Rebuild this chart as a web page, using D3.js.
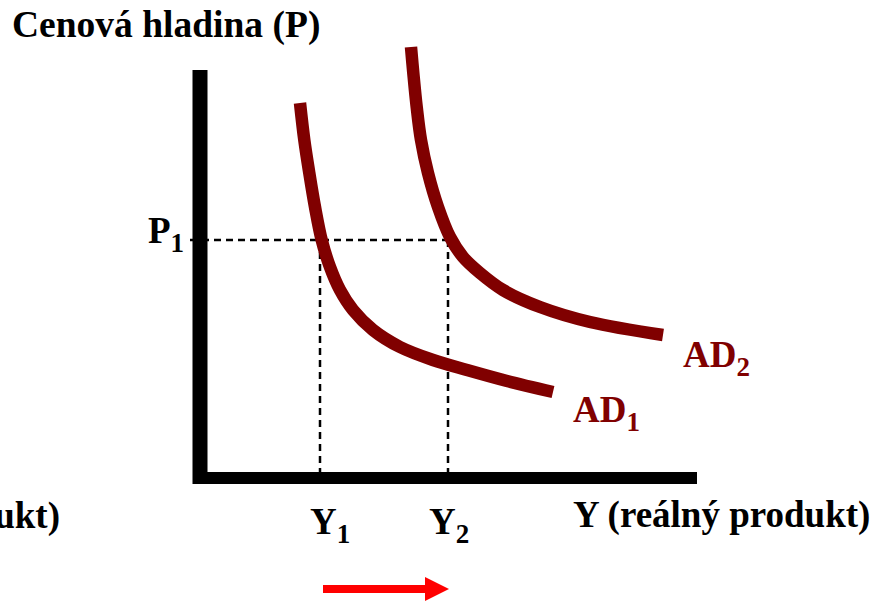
<!DOCTYPE html>
<html>
<head>
<meta charset="utf-8">
<script src="https://cdn.jsdelivr.net/npm/d3@7"></script>
<style>
  html, body { margin: 0; padding: 0; background: #fff; }
  svg { display: block; }
  text { font-family: "Liberation Serif", "Times New Roman", serif; font-weight: bold; }
</style>
</head>
<body>
<svg id="chart" width="874" height="601"></svg>
<script>
// ---- data ----
const ad1X = [100, 104.3, 109.3, 115, 121.7, 130, 140, 153, 173, 200, 233, 267, 307, 353];
const ad1Y = [375, 338, 305, 271, 238, 211, 188, 168, 148, 131, 118, 108, 97, 86];
const ad2X = [211, 213.3, 216.7, 221, 228, 238, 250, 263, 280, 303, 340, 390, 463];
const ad2Y = [431, 405, 371, 338, 305, 271, 241, 221, 205, 188, 171, 156, 143];
const priceLevel = 238;          // P1
const outputLevels = [120, 248]; // Y1, Y2
const outputLabels = ["1", "2"];
const curveLabels = ["1", "2"];

// ---- scales ----
const x = d3.scaleLinear().domain([0, 500]).range([200, 700]);
const y = d3.scaleLinear().domain([0, 410]).range([478, 68]);

const svg = d3.select("#chart");

// dashed guide lines
const dash = svg.append("g")
  .attr("stroke", "#000").attr("stroke-width", 2.5)
  .attr("stroke-dasharray", "7,5").attr("fill", "none");
dash.append("line")
  .attr("x1", x(-10)).attr("x2", x(d3.max(outputLevels)))
  .attr("y1", y(priceLevel)).attr("y2", y(priceLevel));
outputLevels.forEach(v => {
  dash.append("line")
    .attr("x1", x(v)).attr("x2", x(v))
    .attr("y1", y(priceLevel)).attr("y2", y(2));
});

// axes
svg.append("line")
  .attr("x1", x(0)).attr("x2", x(0))
  .attr("y1", y(408)).attr("y2", y(-6))
  .attr("stroke", "#000").attr("stroke-width", 15);
svg.append("line")
  .attr("x1", x(-7)).attr("x2", x(497))
  .attr("y1", y(0)).attr("y2", y(0))
  .attr("stroke", "#000").attr("stroke-width", 12);

// AD curves
const line = d3.line().x(d => x(d[0])).y(d => y(d[1])).curve(d3.curveCatmullRom.alpha(0.5));
const curves = [d3.zip(ad1X, ad1Y), d3.zip(ad2X, ad2Y)];
svg.append("g").selectAll("path").data(curves).join("path")
  .attr("d", line)
  .attr("fill", "none")
  .attr("stroke", "#800000")
  .attr("stroke-width", 12.5)
  .attr("stroke-linecap", "butt");

// text helpers
function sub(xp, yp, main, s, color) {
  const t = svg.append("text").attr("x", xp).attr("y", yp)
    .attr("font-size", 37).attr("fill", color);
  t.append("tspan").text(main);
  t.append("tspan").attr("font-size", 27).attr("dy", 9).text(s);
  return t;
}

// titles
svg.append("text").attr("x", 12).attr("y", 37).attr("font-size", 37.5).text("Cenová hladina (P)");
svg.append("text").attr("x", 573).attr("y", 527).attr("font-size", 37).text("Y (reálný produkt)");
svg.append("text").attr("x", 60).attr("y", 528).attr("font-size", 37)
  .attr("text-anchor", "end").text("Y (reálný produkt)");

// P1 label
sub(148, y(priceLevel) + 3, "P", "1", "#000");

// Y1, Y2 labels
const labelShift = [-10, -19];
outputLevels.forEach((v, i) => sub(x(v) + labelShift[i], 534, "Y", outputLabels[i], "#000"));

// AD labels
sub(573, 422, "AD", curveLabels[0], "#800000");
sub(683, 367, "AD", curveLabels[1], "#800000");

// red arrow
svg.append("defs").append("marker")
  .attr("id", "ah").attr("viewBox", "0 0 10 10")
  .attr("refX", 0).attr("refY", 5)
  .attr("markerWidth", 3.1).attr("markerHeight", 3)
  .attr("markerUnits", "strokeWidth").attr("orient", "auto")
  .append("path").attr("d", "M0,0 L10,5 L0,10 Z").attr("fill", "#ff0000");
svg.append("line")
  .attr("x1", 323).attr("x2", 425)
  .attr("y1", 589).attr("y2", 589)
  .attr("stroke", "#ff0000").attr("stroke-width", 8)
  .attr("marker-end", "url(#ah)");
</script>
</body>
</html>
